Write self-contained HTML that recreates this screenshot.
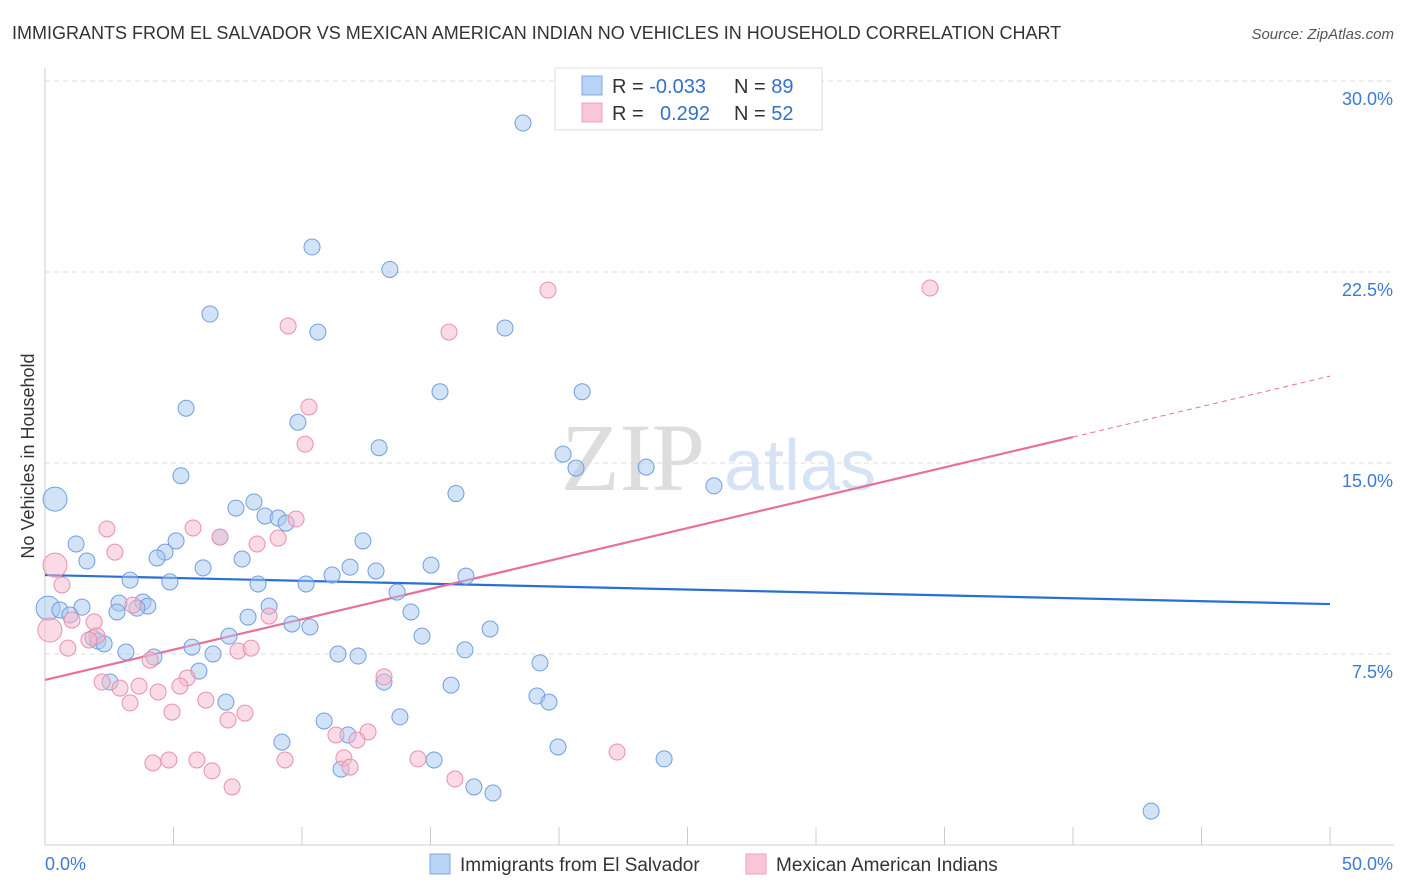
<!DOCTYPE html>
<html><head><meta charset="utf-8">
<style>
body{margin:0;background:#fff;font-family:"Liberation Sans",sans-serif;}
svg{display:block}
</style></head>
<body>
<svg id="chart" width="1406" height="892" xmlns="http://www.w3.org/2000/svg">
<text x="12" y="39" font-size="18" fill="#333">IMMIGRANTS FROM EL SALVADOR VS MEXICAN AMERICAN INDIAN NO VEHICLES IN HOUSEHOLD CORRELATION CHART</text>
<text x="1394" y="39" font-size="15" fill="#555" font-style="italic" text-anchor="end">Source: ZipAtlas.com</text>
<text x="633" y="490" font-size="96" fill="#ddd" font-family="Liberation Serif,serif" text-anchor="middle">ZIP</text>
<text x="800" y="490" font-size="72" fill="#d6e3f5" text-anchor="middle">atlas</text>
<text transform="translate(34,456) rotate(-90)" font-size="18" fill="#333" text-anchor="middle">No Vehicles in Household</text>
<g id="grid"></g><g id="axes"></g><g id="lines"></g><g id="pts"></g>
<g>
<rect x="555" y="68" width="267" height="62" fill="#fff" stroke="#ddd"/>
<rect x="582" y="76" width="20" height="19" fill="#b8d3f5" stroke="#7fa9e6"/>
<rect x="582" y="103" width="20" height="19" fill="#f9c6d6" stroke="#f0a0bb"/>
<text x="612" y="93" font-size="20" fill="#333">R = <tspan fill="#3370cc">-0.033</tspan></text>
<text x="734" y="93" font-size="20" fill="#333">N = <tspan fill="#3370cc">89</tspan></text>
<text x="612" y="120" font-size="20" fill="#333">R = <tspan fill="#3370cc" x="660">0.292</tspan></text>
<text x="734" y="120" font-size="20" fill="#333">N = <tspan fill="#3370cc">52</tspan></text>
</g>
<g>
<rect x="430" y="854" width="20" height="20" fill="#b8d3f5" stroke="#7fa9e6"/>
<text x="460" y="871" font-size="19" fill="#333">Immigrants from El Salvador</text>
<rect x="746" y="854" width="20" height="20" fill="#f9c6d6" stroke="#f0a0bb"/>
<text x="776" y="871" font-size="19" fill="#333">Mexican American Indians</text>
</g>
</svg>
<script>
const yTicks=[7.5,15,22.5,30];
const yTickLabels=["7.5%","15.0%","22.5%","30.0%"];
const xTickCount=10;
const blueX=[18.6,10.39,13.42,6.42,10.62,17.9,20.9,15.37,5.49,9.84,13.0,20.16,20.66,23.39,5.29,15.99,26.03,0.39,8.13,7.43,8.56,9.07,9.38,1.21,12.37,5.1,6.81,1.63,4.67,4.36,7.67,6.15,11.87,12.88,15.02,11.17,3.31,4.86,8.29,10.16,16.38,13.7,0.12,0.58,1.44,2.88,3.81,4.0,3.58,8.72,2.8,14.24,0.97,7.9,9.61,10.31,17.32,1.87,2.06,2.3,14.67,7.16,5.72,3.15,11.4,12.18,16.34,4.24,6.54,19.26,5.99,2.53,13.19,15.8,19.14,19.61,7.04,13.81,10.86,11.79,9.22,19.96,15.14,24.09,11.52,16.69,17.43,43.04];
const blueY=[28.35,23.48,22.6,20.85,20.14,20.3,17.8,17.8,17.15,16.6,15.6,15.35,14.8,14.84,14.5,13.8,14.1,13.58,13.47,13.23,12.92,12.84,12.64,11.82,11.94,11.94,12.09,11.15,11.5,11.27,11.23,10.88,10.91,10.76,10.99,10.6,10.4,10.33,10.25,10.25,10.56,9.93,9.3,9.23,9.34,9.5,9.54,9.38,9.3,9.38,9.15,9.15,9.03,8.95,8.68,8.56,8.48,8.13,8.01,7.9,8.2,8.2,7.77,7.58,7.5,7.42,7.66,7.38,7.5,7.15,6.83,6.4,6.4,6.28,5.85,5.61,5.61,5.03,4.87,4.32,4.04,3.85,3.34,3.38,2.98,2.28,2.04,1.33];
const pinkX=[0.39,0.19,0.66,19.57,34.44,9.46,15.72,10.27,10.12,2.41,5.76,6.81,8.25,9.77,9.07,2.72,1.05,1.91,2.02,1.71,0.89,3.42,8.72,7.51,8.02,4.09,5.53,2.22,2.92,3.66,4.4,5.25,3.31,6.26,4.94,7.78,7.12,13.19,12.57,11.32,12.14,5.91,4.2,4.82,6.5,9.34,14.51,22.26,11.63,11.87,15.95,7.28];
const pinkY=[10.99,8.44,10.21,21.79,21.87,20.38,20.14,17.2,15.74,12.41,12.45,12.09,11.82,12.8,12.05,11.5,8.83,8.76,8.21,8.05,7.73,9.42,8.99,7.62,7.73,7.26,6.56,6.4,6.16,6.24,6.01,6.24,5.58,5.69,5.22,5.18,4.91,6.6,4.44,4.32,4.12,3.34,3.22,3.34,2.91,3.34,3.38,3.65,3.42,3.06,2.59,2.28];
const blueTrend=[10.6,9.46];
const pinkTrend=[6.48,16.02,18.41];
const pinkTrendX=[0,40,50];
const NS="http://www.w3.org/2000/svg";
const X0=45,X1=1330,Y0=845,YT=81;
const sx=v=>X0+(X1-X0)*v/50;
const sy=v=>Y0-(Y0-YT)*v/30;
function mk(tag,attrs,parent){const e=document.createElementNS(NS,tag);for(const k in attrs)e.setAttribute(k,attrs[k]);parent.appendChild(e);return e;}
const grid=document.getElementById('grid'),axes=document.getElementById('axes'),lines=document.getElementById('lines'),pts=document.getElementById('pts');
yTicks.forEach((t,i)=>{
 const l=mk('line',{x1:X0,x2:1394,y1:sy(t),y2:sy(t),stroke:'#ddd','stroke-dasharray':'5,4'},grid);
 
 
 const tx=mk('text',{x:1393,y:sy(t)+24,'font-size':18,fill:'#3d7ad6','text-anchor':'end'},axes);
 tx.textContent=yTickLabels[i];
 
 
});
const xa=mk('line',{x1:X0,x2:1394,y1:Y0,y2:Y0,stroke:'#ccc'},axes);


const ya=mk('line',{x1:X0,x2:X0,y1:68,y2:Y0,stroke:'#ccc'},axes);


for(let i=0;i<=xTickCount;i++){
 const v=50*i/xTickCount;
 const t=mk('line',{x1:sx(v),x2:sx(v),y1:Y0-18,y2:Y0,stroke:'#ccc'},axes);
 
 
}
const xl0=mk('text',{x:45,y:870,'font-size':18,fill:'#3d7ad6'},axes);xl0.textContent='0.0%';


const xl1=mk('text',{x:1393,y:870,'font-size':18,fill:'#3d7ad6','text-anchor':'end'},axes);xl1.textContent='50.0%';


function dots(xs,ys,fill,stroke,name,big){
 xs.forEach((x,i)=>{
  const r=big.includes(i)?12:8;
  const c=mk('circle',{cx:sx(x),cy:sy(ys[i]),r:r,fill:fill,'fill-opacity':0.5,stroke:stroke,'stroke-width':1},pts);
  
  
 });
}
dots(blueX,blueY,'#a8c8f0','#6f9fe0','el-salvador-point',[17,42]);
dots(pinkX,pinkY,'#f6b8cc','#e890ad','mexican-american-indian-point',[0,1]);
const bl=mk('line',{x1:sx(0),y1:sy(blueTrend[0]),x2:sx(50),y2:sy(blueTrend[1]),stroke:'#2a6fd6','stroke-width':2.2},lines);


const pl=mk('line',{x1:sx(pinkTrendX[0]),y1:sy(pinkTrend[0]),x2:sx(pinkTrendX[1]),y2:sy(pinkTrend[1]),stroke:'#e8709a','stroke-width':2.2},lines);


const pd=mk('line',{x1:sx(pinkTrendX[1]),y1:sy(pinkTrend[1]),x2:sx(pinkTrendX[2]),y2:sy(pinkTrend[2]),stroke:'#e8709a','stroke-width':1,'stroke-dasharray':'5,4'},lines);


</script>
</body></html>
